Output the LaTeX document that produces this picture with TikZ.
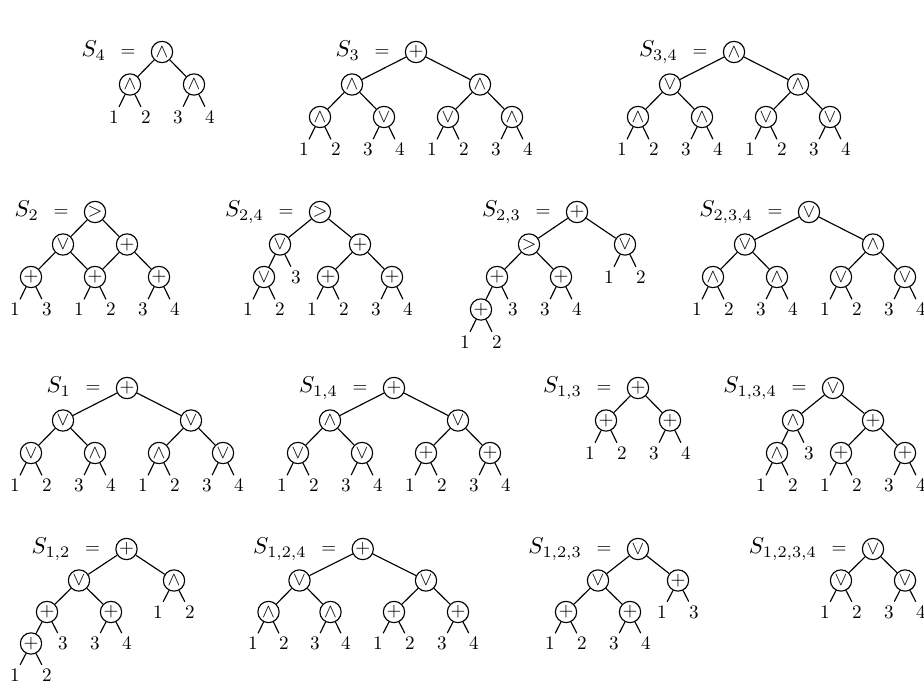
\documentclass[tikz,border=0pt]{standalone}
\begin{document}
\begin{tikzpicture}[x=0.5236pt,y=-0.5236pt,
  op/.style={circle,draw,line width=0.6pt,inner sep=0pt,minimum size=11.15pt},
  lf/.style={inner sep=1.8pt},
  ed/.style={line width=0.6pt},
  lbl/.style={anchor=base east,inner sep=0pt}]
\useasboundingbox (0,0) rectangle (924,688);
\newcommand{\lab}[2]{\node[lbl] (#1L) at ([xshift=-7.8pt,yshift=-2.5pt]#1.west) {\scalebox{1.2}{$S_{#2}$}\hspace{7.7pt}$=$};}
% ---------- S4
\node[op] (A) at (162,52) {$\wedge$};
\node[op] (A1) at (130,84.5) {$\wedge$};
\node[op] (A2) at (194,84.5) {$\wedge$};
\node[lf] (Aa) at (114,117) {1};
\node[lf] (Ab) at (146,117) {2};
\node[lf] (Ac) at (178,117) {3};
\node[lf] (Ad) at (210,117) {4};
\lab{A}{4}
\draw[ed] (A)--(A1) (A)--(A2) (A1)--(Aa) (A1)--(Ab) (A2)--(Ac) (A2)--(Ad);
% ---------- S3
\node[op] (B) at (416,52) {$+$};
\node[op] (B1) at (352,84.5) {$\wedge$};
\node[op] (B2) at (480,84.5) {$\wedge$};
\node[op] (B11) at (320,117) {$\wedge$};
\node[op] (B12) at (384,117) {$\vee$};
\node[op] (B21) at (448,117) {$\vee$};
\node[op] (B22) at (512,117) {$\wedge$};
\node[lf] (Ba) at (304,149.5) {1};
\node[lf] (Bb) at (336,149.5) {2};
\node[lf] (Bc) at (368,149.5) {3};
\node[lf] (Bd) at (400,149.5) {4};
\node[lf] (Be) at (432,149.5) {1};
\node[lf] (Bf) at (464,149.5) {2};
\node[lf] (Bg) at (496,149.5) {3};
\node[lf] (Bh) at (528,149.5) {4};
\lab{B}{3}
\draw[ed] (B)--(B1) (B)--(B2) (B1)--(B11) (B1)--(B12) (B2)--(B21) (B2)--(B22)
  (B11)--(Ba) (B11)--(Bb) (B12)--(Bc) (B12)--(Bd) (B21)--(Be) (B21)--(Bf) (B22)--(Bg) (B22)--(Bh);
% ---------- S3,4
\node[op] (C) at (734,52) {$\wedge$};
\node[op] (C1) at (670,84.5) {$\vee$};
\node[op] (C2) at (798,84.5) {$\wedge$};
\node[op] (C11) at (638,117) {$\wedge$};
\node[op] (C12) at (702,117) {$\wedge$};
\node[op] (C21) at (766,117) {$\vee$};
\node[op] (C22) at (830,117) {$\vee$};
\node[lf] (Ca) at (622,149.5) {1};
\node[lf] (Cb) at (654,149.5) {2};
\node[lf] (Cc) at (686,149.5) {3};
\node[lf] (Cd) at (718,149.5) {4};
\node[lf] (Ce) at (750,149.5) {1};
\node[lf] (Cf) at (782,149.5) {2};
\node[lf] (Cg) at (814,149.5) {3};
\node[lf] (Ch) at (846,149.5) {4};
\lab{C}{3,4}
\draw[ed] (C)--(C1) (C)--(C2) (C1)--(C11) (C1)--(C12) (C2)--(C21) (C2)--(C22)
  (C11)--(Ca) (C11)--(Cb) (C12)--(Cc) (C12)--(Cd) (C21)--(Ce) (C21)--(Cf) (C22)--(Cg) (C22)--(Ch);
% ---------- S2
\node[op] (D) at (95,212) {$>$};
\node[op] (D1) at (63,244.5) {$\vee$};
\node[op] (D2) at (127,244.5) {$+$};
\node[op] (D11) at (31,277) {$+$};
\node[op] (D12) at (95,277) {$+$};
\node[op] (D22) at (159,277) {$+$};
\node[lf] (Da) at (15,309.5) {1};
\node[lf] (Db) at (47,309.5) {3};
\node[lf] (Dc) at (79,309.5) {1};
\node[lf] (Dd) at (111,309.5) {2};
\node[lf] (De) at (143,309.5) {3};
\node[lf] (Df) at (175,309.5) {4};
\lab{D}{2}
\draw[ed] (D)--(D1) (D)--(D2) (D1)--(D11) (D1)--(D12) (D2)--(D12) (D2)--(D22)
  (D11)--(Da) (D11)--(Db) (D12)--(Dc) (D12)--(Dd) (D22)--(De) (D22)--(Df);
% ---------- S2,4
\node[op] (E) at (320,212) {$>$};
\node[op] (E1) at (280,244.5) {$\vee$};
\node[op] (E2) at (360,244.5) {$+$};
\node[op] (E11) at (264,277) {$\vee$};
\node[lf] (E12) at (296,277) {3};
\node[op] (E21) at (328,277) {$+$};
\node[op] (E22) at (392,277) {$+$};
\node[lf] (Ea) at (248,309.5) {1};
\node[lf] (Eb) at (280,309.5) {2};
\node[lf] (Ec) at (312,309.5) {1};
\node[lf] (Ed) at (344,309.5) {2};
\node[lf] (Ee) at (376,309.5) {3};
\node[lf] (Ef) at (408,309.5) {4};
\lab{E}{2,4}
\draw[ed] (E)--(E1) (E)--(E2) (E1)--(E11) (E1)--(E12) (E2)--(E21) (E2)--(E22)
  (E11)--(Ea) (E11)--(Eb) (E21)--(Ec) (E21)--(Ed) (E22)--(Ee) (E22)--(Ef);
% ---------- S2,3
\node[op] (F) at (577,212) {$+$};
\node[op] (F1) at (529,244.5) {$>$};
\node[op] (F2) at (625,244.5) {$\vee$};
\node[op] (F11) at (497,277) {$+$};
\node[op] (F12) at (561,277) {$+$};
\node[lf] (F21) at (609,277) {1};
\node[lf] (F22) at (641,277) {2};
\node[op] (F111) at (481,309.5) {$+$};
\node[lf] (F112) at (513,309.5) {3};
\node[lf] (F121) at (545,309.5) {3};
\node[lf] (F122) at (577,309.5) {4};
\node[lf] (Fa) at (465,342) {1};
\node[lf] (Fb) at (497,342) {2};
\lab{F}{2,3}
\draw[ed] (F)--(F1) (F)--(F2) (F1)--(F11) (F1)--(F12) (F2)--(F21) (F2)--(F22)
  (F11)--(F111) (F11)--(F112) (F12)--(F121) (F12)--(F122) (F111)--(Fa) (F111)--(Fb);
% ---------- S2,3,4
\node[op] (G) at (809,212) {$\vee$};
\node[op] (G1) at (745,244.5) {$\vee$};
\node[op] (G2) at (873,244.5) {$\wedge$};
\node[op] (G11) at (713,277) {$\wedge$};
\node[op] (G12) at (777,277) {$\wedge$};
\node[op] (G21) at (841,277) {$\vee$};
\node[op] (G22) at (905,277) {$\vee$};
\node[lf] (Ga) at (697,309.5) {1};
\node[lf] (Gb) at (729,309.5) {2};
\node[lf] (Gc) at (761,309.5) {3};
\node[lf] (Gd) at (793,309.5) {4};
\node[lf] (Ge) at (825,309.5) {1};
\node[lf] (Gf) at (857,309.5) {2};
\node[lf] (Gg) at (889,309.5) {3};
\node[lf] (Gh) at (921,309.5) {4};
\lab{G}{2,3,4}
\draw[ed] (G)--(G1) (G)--(G2) (G1)--(G11) (G1)--(G12) (G2)--(G21) (G2)--(G22)
  (G11)--(Ga) (G11)--(Gb) (G12)--(Gc) (G12)--(Gd) (G21)--(Ge) (G21)--(Gf) (G22)--(Gg) (G22)--(Gh);
% ---------- S1
\node[op] (H) at (127,388) {$+$};
\node[op] (H1) at (63,420.5) {$\vee$};
\node[op] (H2) at (191,420.5) {$\vee$};
\node[op] (H11) at (31,453) {$\vee$};
\node[op] (H12) at (95,453) {$\wedge$};
\node[op] (H21) at (159,453) {$\wedge$};
\node[op] (H22) at (223,453) {$\vee$};
\node[lf] (Ha) at (15,485.5) {1};
\node[lf] (Hb) at (47,485.5) {2};
\node[lf] (Hc) at (79,485.5) {3};
\node[lf] (Hd) at (111,485.5) {4};
\node[lf] (He) at (143,485.5) {1};
\node[lf] (Hf) at (175,485.5) {2};
\node[lf] (Hg) at (207,485.5) {3};
\node[lf] (Hh) at (239,485.5) {4};
\lab{H}{1}
\draw[ed] (H)--(H1) (H)--(H2) (H1)--(H11) (H1)--(H12) (H2)--(H21) (H2)--(H22)
  (H11)--(Ha) (H11)--(Hb) (H12)--(Hc) (H12)--(Hd) (H21)--(He) (H21)--(Hf) (H22)--(Hg) (H22)--(Hh);
% ---------- S1,4
\node[op] (I) at (394,388) {$+$};
\node[op] (I1) at (330,420.5) {$\wedge$};
\node[op] (I2) at (458,420.5) {$\vee$};
\node[op] (I11) at (298,453) {$\vee$};
\node[op] (I12) at (362,453) {$\vee$};
\node[op] (I21) at (426,453) {$+$};
\node[op] (I22) at (490,453) {$+$};
\node[lf] (Ia) at (282,485.5) {1};
\node[lf] (Ib) at (314,485.5) {2};
\node[lf] (Ic) at (346,485.5) {3};
\node[lf] (Id) at (378,485.5) {4};
\node[lf] (Ie) at (410,485.5) {1};
\node[lf] (If) at (442,485.5) {2};
\node[lf] (Ig) at (474,485.5) {3};
\node[lf] (Ih) at (506,485.5) {4};
\lab{I}{1,4}
\draw[ed] (I)--(I1) (I)--(I2) (I1)--(I11) (I1)--(I12) (I2)--(I21) (I2)--(I22)
  (I11)--(Ia) (I11)--(Ib) (I12)--(Ic) (I12)--(Id) (I21)--(Ie) (I21)--(If) (I22)--(Ig) (I22)--(Ih);
% ---------- S1,3
\node[op] (J) at (638,388) {$+$};
\node[op] (J1) at (606,420.5) {$+$};
\node[op] (J2) at (670,420.5) {$+$};
\node[lf] (Ja) at (590,453) {1};
\node[lf] (Jb) at (622,453) {2};
\node[lf] (Jc) at (654,453) {3};
\node[lf] (Jd) at (686,453) {4};
\lab{J}{1,3}
\draw[ed] (J)--(J1) (J)--(J2) (J1)--(Ja) (J1)--(Jb) (J2)--(Jc) (J2)--(Jd);
% ---------- S1,3,4
\node[op] (K) at (833,388) {$\vee$};
\node[op] (K1) at (793,420.5) {$\wedge$};
\node[op] (K2) at (873,420.5) {$+$};
\node[op] (K11) at (777,453) {$\wedge$};
\node[lf] (K12) at (809,453) {3};
\node[op] (K21) at (841,453) {$+$};
\node[op] (K22) at (905,453) {$+$};
\node[lf] (Ka) at (761,485.5) {1};
\node[lf] (Kb) at (793,485.5) {2};
\node[lf] (Kc) at (825,485.5) {1};
\node[lf] (Kd) at (857,485.5) {2};
\node[lf] (Ke) at (889,485.5) {3};
\node[lf] (Kf) at (921,485.5) {4};
\lab{K}{1,3,4}
\draw[ed] (K)--(K1) (K)--(K2) (K1)--(K11) (K1)--(K12) (K2)--(K21) (K2)--(K22)
  (K11)--(Ka) (K11)--(Kb) (K21)--(Kc) (K21)--(Kd) (K22)--(Ke) (K22)--(Kf);
% ---------- S1,2
\node[op] (L) at (126.5,549) {$+$};
\node[op] (L1) at (79,580.5) {$\vee$};
\node[op] (L2) at (174,580.5) {$\wedge$};
\node[op] (L11) at (47,612) {$+$};
\node[op] (L12) at (111,612) {$+$};
\node[lf] (L21) at (158,612) {1};
\node[lf] (L22) at (190,612) {2};
\node[op] (L111) at (31,643.5) {$+$};
\node[lf] (L112) at (63,643.5) {3};
\node[lf] (L121) at (95,643.5) {3};
\node[lf] (L122) at (127,643.5) {4};
\node[lf] (La) at (15,675) {1};
\node[lf] (Lb) at (47,675) {2};
\lab{L}{1,2}
\draw[ed] (L)--(L1) (L)--(L2) (L1)--(L11) (L1)--(L12) (L2)--(L21) (L2)--(L22)
  (L11)--(L111) (L11)--(L112) (L12)--(L121) (L12)--(L122) (L111)--(La) (L111)--(Lb);
% ---------- S1,2,4
\node[op] (M) at (362.75,549) {$+$};
\node[op] (M1) at (299.5,580.5) {$\vee$};
\node[op] (M2) at (426,580.5) {$\vee$};
\node[op] (M11) at (268.5,612) {$\wedge$};
\node[op] (M12) at (330.5,612) {$\wedge$};
\node[op] (M21) at (394,612) {$+$};
\node[op] (M22) at (458,612) {$+$};
\node[lf] (Ma) at (253,643.5) {1};
\node[lf] (Mb) at (284,643.5) {2};
\node[lf] (Mc) at (315,643.5) {3};
\node[lf] (Md) at (346,643.5) {4};
\node[lf] (Me) at (378,643.5) {1};
\node[lf] (Mf) at (410,643.5) {2};
\node[lf] (Mg) at (442,643.5) {3};
\node[lf] (Mh) at (474,643.5) {4};
\lab{M}{1,2,4}
\draw[ed] (M)--(M1) (M)--(M2) (M1)--(M11) (M1)--(M12) (M2)--(M21) (M2)--(M22)
  (M11)--(Ma) (M11)--(Mb) (M12)--(Mc) (M12)--(Md) (M21)--(Me) (M21)--(Mf) (M22)--(Mg) (M22)--(Mh);
% ---------- S1,2,3
\node[op] (N) at (638,549) {$\vee$};
\node[op] (N1) at (598,580.5) {$\vee$};
\node[op] (N2) at (678,580.5) {$+$};
\node[op] (N11) at (566,612) {$+$};
\node[op] (N12) at (630,612) {$+$};
\node[lf] (N21) at (662,612) {1};
\node[lf] (N22) at (694,612) {3};
\node[lf] (Na) at (550,643.5) {1};
\node[lf] (Nb) at (582,643.5) {2};
\node[lf] (Nc) at (614,643.5) {3};
\node[lf] (Nd) at (646,643.5) {4};
\lab{N}{1,2,3}
\draw[ed] (N)--(N1) (N)--(N2) (N1)--(N11) (N1)--(N12) (N2)--(N21) (N2)--(N22)
  (N11)--(Na) (N11)--(Nb) (N12)--(Nc) (N12)--(Nd);
% ---------- S1,2,3,4
\node[op] (O) at (873,549) {$\vee$};
\node[op] (O1) at (841,580.5) {$\vee$};
\node[op] (O2) at (905,580.5) {$\vee$};
\node[lf] (Oa) at (825,612) {1};
\node[lf] (Ob) at (857,612) {2};
\node[lf] (Oc) at (889,612) {3};
\node[lf] (Od) at (921,612) {4};
\lab{O}{1,2,3,4}
\draw[ed] (O)--(O1) (O)--(O2) (O1)--(Oa) (O1)--(Ob) (O2)--(Oc) (O2)--(Od);
\end{tikzpicture}
\end{document}
